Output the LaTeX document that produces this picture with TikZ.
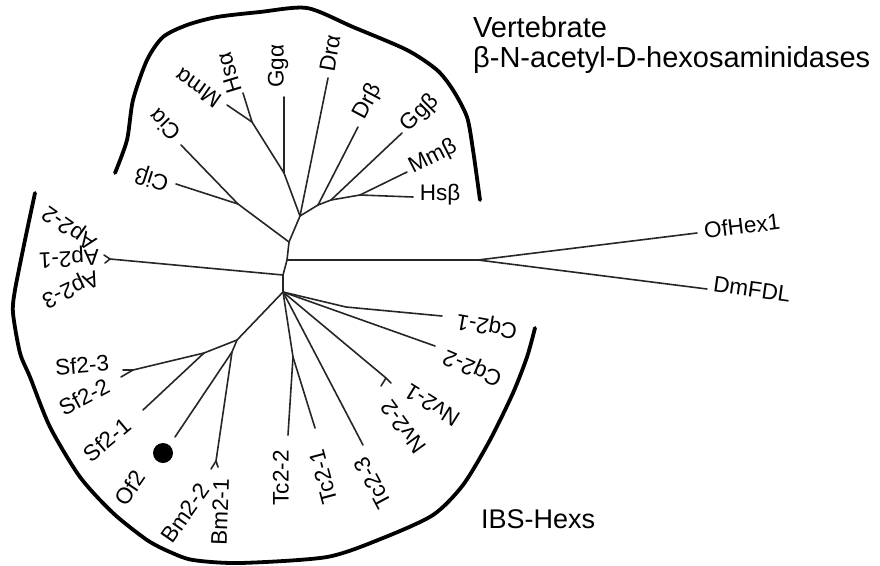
\documentclass[tikz,border=0pt]{standalone}
\usepackage{fontspec}
\setmainfont{Liberation Sans}
\begin{document}
\begin{tikzpicture}[x=1pt,y=-1pt,
  br/.style={line width=1.6pt, line cap=round, line join=round, draw=black!85},
  grp/.style={line width=3.8pt, line cap=round, line join=round},
  lbl/.style={inner sep=0pt, font=\fontsize{22.5}{27}\selectfont},
  big/.style={inner sep=0pt, font=\fontsize{29}{34}\selectfont, anchor=base west}]
\useasboundingbox (0,0) rectangle (880,565);
% backbone
\coordinate (V) at (300,216);
\coordinate (A) at (289,242);
\coordinate (Bn) at (287,260);
\coordinate (C) at (283,275);
\coordinate (D) at (283,292);
% vertebrate clade
\coordinate (G1) at (284,173);
\coordinate (MH) at (252,122);
\coordinate (Bb) at (318,205);
\coordinate (B2) at (331,200);
\coordinate (B3) at (360,195);
\coordinate (tGga) at (284,97);
\coordinate (tHsa) at (243,93);
\coordinate (tMma) at (227,105);
\coordinate (tDra) at (328,78);
\coordinate (tDrb) at (358,127);
\coordinate (tGgb) at (402,133);
\coordinate (tMmb) at (407,172);
\coordinate (tHsb) at (413,197);
\coordinate (Cj) at (238,204);
\coordinate (tCia) at (181,145);
\coordinate (tCib) at (176,184);
% Ap
\coordinate (tAp) at (110,259);
\coordinate (tAp2) at (104,255);
\coordinate (tAp3) at (105,263);
% OfHex1 / DmFDL
\coordinate (J) at (478,260);
\coordinate (tOf) at (697,233);
\coordinate (tDm) at (707,289);
% IBS
\coordinate (E) at (237,340);
\coordinate (F) at (204,353);
\coordinate (SfT) at (133,370);
\coordinate (tSf3) at (123,370);
\coordinate (tSf2) at (121,377);
\coordinate (tSf1) at (143,410);
\coordinate (G) at (232,352);
\coordinate (tOf2) at (175,437);
\coordinate (BmT) at (216,461);
\coordinate (tBm2) at (211,469);
\coordinate (tBm1) at (218,467);
\coordinate (H) at (293,357);
\coordinate (tTc2) at (288,435);
\coordinate (tTc1) at (315,428);
\coordinate (tTc3) at (363,445);
\coordinate (NvT) at (386,378);
\coordinate (tNv2) at (381,386);
\coordinate (tNv1) at (391,383);
\coordinate (I) at (346,307);
\coordinate (tCq1) at (442,316);
\coordinate (tCq2) at (435,346);

% branches
\draw[br] (V) -- (A) -- (Bn) -- (C) -- (D);
\draw[br] (V) -- (G1) -- (tGga);
\draw[br] (G1) -- (MH) -- (tHsa);
\draw[br] (MH) -- (tMma);
\draw[br] (V) -- (tDra);
\draw[br] (V) -- (Bb) -- (tDrb);
\draw[br] (Bb) -- (B2) -- (tGgb);
\draw[br] (B2) -- (B3) -- (tMmb);
\draw[br] (B3) -- (tHsb);
\draw[br] (A) -- (Cj) -- (tCia);
\draw[br] (Cj) -- (tCib);
\draw[br] (C) -- (tAp) -- (tAp2);
\draw[br] (tAp) -- (tAp3);
\draw[br] (Bn) -- (J) -- (tOf);
\draw[br] (J) -- (tDm);
\draw[br] (D) -- (E) -- (F) -- (SfT) -- (tSf3);
\draw[br] (SfT) -- (tSf2);
\draw[br] (F) -- (tSf1);
\draw[br] (E) -- (G) -- (tOf2);
\draw[br] (G) -- (BmT) -- (tBm2);
\draw[br] (BmT) -- (tBm1);
\draw[br] (D) -- (H) -- (tTc2);
\draw[br] (H) -- (tTc1);
\draw[br] (D) -- (tTc3);
\draw[br] (D) -- (NvT) -- (tNv2);
\draw[br] (NvT) -- (tNv1);
\draw[br] (D) -- (I) -- (tCq1);
\draw[br] (D) -- (tCq2);
\fill (163,453) circle (10);

% labels
\node[lbl] (lHsb) at (440,195) {Hsβ};
\node[lbl,rotate=27] (lMmb) at (433,157) {Mmβ};
\node[lbl,rotate=45] (lGgb) at (420,113) {Ggβ};
\node[lbl,rotate=62] (lDrb) at (368,102) {Drβ};
\node[lbl,rotate=80] (lDra) at (330,53) {Drα};
\node[lbl,rotate=90] (lGga) at (278,66) {Ggα};
\node[lbl,rotate=107] (lHsa) at (229,73) {Hsα};
\node[lbl,rotate=145] (lMma) at (198,88) {Mmα};
\node[lbl,rotate=134] (lCia) at (165,125) {Ciα};
\node[lbl,rotate=162] (lCib) at (152,178) {Ciβ};
\node[lbl,rotate=145] (lAp2) at (70,227) {Ap2-2};
\node[lbl,rotate=183] (lAp1) at (69,257) {Ap2-1};
\node[lbl,rotate=205] (lAp3) at (70,288) {Ap2-3};
\node[lbl,rotate=7] (lOf) at (742,226) {OfHex1};
\node[lbl,rotate=-8] (lDm) at (752,289) {DmFDL};
\node[lbl,rotate=170] (lCq1) at (487,325) {Cq2-1};
\node[lbl,rotate=157] (lCq2) at (473,367) {Cq2-2};
\node[lbl,rotate=148] (lNv1) at (432,405) {Nv2-1};
\node[lbl,rotate=126] (lNv2) at (403,427) {Nv2-2};
\node[lbl,rotate=118] (lTc3) at (373,483) {Tc2-3};
\node[lbl,rotate=105] (lTc1) at (323,477) {Tc2-1};
\node[lbl,rotate=90] (lTc2) at (281,478) {Tc2-2};
\node[lbl,rotate=88] (lBm1) at (220,512) {Bm2-1};
\node[lbl,rotate=55] (lBm2) at (185,513) {Bm2-2};
\node[lbl,rotate=56] (lOf2) at (130,488) {Of2};
\node[lbl,rotate=40] (lSf1) at (107,440) {Sf2-1};
\node[lbl,rotate=28] (lSf2) at (84,397) {Sf2-2};
\node[lbl,rotate=5] (lSf3) at (82,365) {Sf2-3};

% group brackets
\draw[grp] plot[smooth, tension=0.45] coordinates {(115,173) (127,140) (133,100) (147,60) (163,37) (187,25) (217,17) (260,12) (307,8) (353,27) (407,50) (437,70) (453,90) (467,117) (473,150) (480,200)};
\draw[grp] plot[smooth, tension=0.45] coordinates {(35,193) (25,240) (15,290) (13,313) (20,353) (30,377) (50,427) (80,477) (113,513) (147,540) (170,552) (193,560) (240,563) (327,557) (383,538) (433,515) (463,485) (490,440) (513,393) (527,357) (535,328)};

\node[big] (tV) at (473,37) {Vertebrate};
\node[big] (tB) at (473,67) {β-N-acetyl-D-hexosaminidases};
\node[big,font=\fontsize{27}{32}\selectfont] (tI) at (481,528) {IBS-Hexs};
\end{tikzpicture}
\end{document}
